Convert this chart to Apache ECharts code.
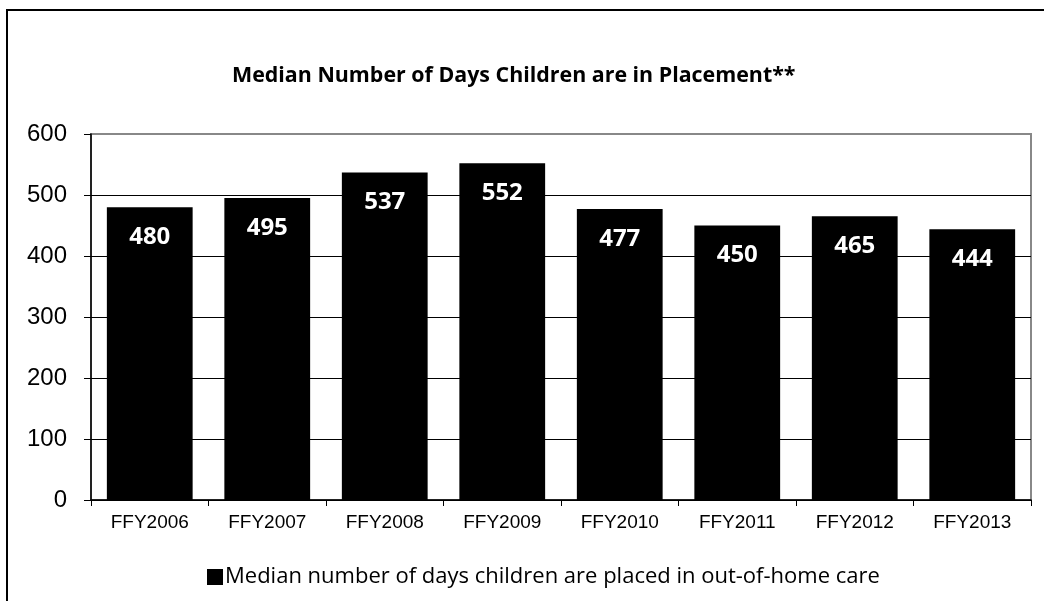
<!DOCTYPE html>
<html>
<head>
<meta charset="utf-8">
<script src="https://cdn.jsdelivr.net/npm/echarts@6/dist/echarts.min.js"></script>
<style>
  html, body { margin:0; padding:0; background:#fff; }
  #chart { width:1044px; height:601px; }
</style>
</head>
<body>
<div id="chart"></div>
<script>
var years = ['FFY2006','FFY2007','FFY2008','FFY2009','FFY2010','FFY2011','FFY2012','FFY2013'];
var medianDays = [480, 495, 537, 552, 477, 450, 465, 444];
var yTicks = [0, 100, 200, 300, 400, 500, 600];

var chart = echarts.init(document.getElementById('chart'));

var option = {
  animation: false,
  backgroundColor: '#fff',
  title: {
    text: 'Median Number of Days Children are in Placement**',
    left: 227,
    top: 60,
    textStyle: {
      fontFamily: 'Open Sans',
      fontWeight: 'bold',
      fontSize: 21.4,
      color: '#000'
    }
  },
  legend: {
    bottom: 8,
    left: 202,
    itemWidth: 16,
    itemHeight: 16,
    itemGap: 4,
    icon: 'rect',
    textStyle: {
      fontFamily: 'Open Sans',
      fontSize: 22,
      color: '#000',
      padding: [0, 0, 0, -3]
    },
    data: ['Median number of days children are placed in out-of-home care']
  },
  grid: {
    left: 91,
    right: 13,
    top: 134,
    bottom: 101,
    show: true,
    borderColor: '#888',
    borderWidth: 2
  },
  xAxis: {
    type: 'category',
    data: years,
    axisLine: { lineStyle: { color: '#000', width: 1.5 } },
    axisTick: { show: true, length: 6, lineStyle: { color: '#000' } },
    axisLabel: {
      fontFamily: 'Liberation Sans',
      fontSize: 19,
      color: '#000',
      margin: 13
    }
  },
  yAxis: {
    type: 'value',
    min: yTicks[0],
    max: yTicks[yTicks.length - 1],
    interval: 100,
    axisLine: { show: true, lineStyle: { color: '#000', width: 1.5 } },
    axisTick: { show: true, length: 7, lineStyle: { color: '#000' } },
    axisLabel: {
      fontFamily: 'Liberation Sans',
      fontSize: 24,
      color: '#000',
      margin: 24
    },
    splitLine: {
      lineStyle: { color: ['#000','#000','#000','#000','#000','#000','#888'], width: 1 }
    }
  },
  series: [{
    name: 'Median number of days children are placed in out-of-home care',
    type: 'bar',
    data: medianDays,
    barCategoryGap: '27%',
    itemStyle: { color: '#000' },
    label: {
      show: true,
      position: 'insideTop',
      distance: 18,
      fontFamily: 'Open Sans',
      fontWeight: 'bold',
      fontSize: 24,
      color: '#fff'
    }
  }],
  graphic: [{
    type: 'rect',
    shape: { x: 7, y: 10, width: 1100, height: 700 },
    style: { fill: 'none', stroke: '#000', lineWidth: 2 },
    silent: true
  }]
};

chart.setOption(option);
</script>
</body>
</html>
